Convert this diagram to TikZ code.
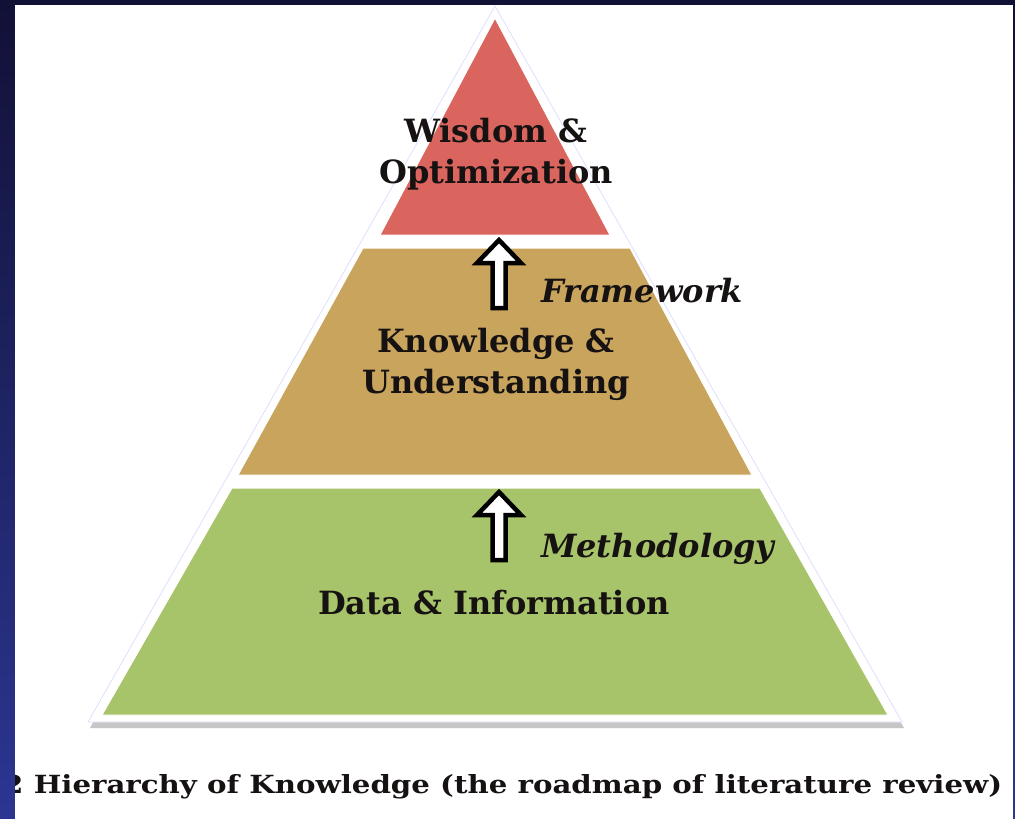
\documentclass[tikz,border=0pt]{standalone}
\usepackage{fontspec}
\setmainfont{DejaVu Serif}
\usetikzlibrary{calc}
\definecolor{slidenavy}{RGB}{17,17,54}
\definecolor{slideblue}{RGB}{44,54,146}
\definecolor{wisdomred}{RGB}{218,101,95}
\definecolor{knowtan}{RGB}{201,164,92}
\definecolor{datagreen}{RGB}{168,196,106}
\definecolor{inkblack}{RGB}{22,18,18}

\tikzset{
  layer/.style={draw=white, line width=1pt},
  levellabel/.style={font=\bfseries\fontsize{32}{41}\selectfont, text=inkblack,
    align=center, inner sep=0pt},
  steplabel/.style={font=\bfseries\itshape\fontsize{32}{40}\selectfont, text=inkblack,
    anchor=base west, inner sep=0pt},
  hollow/.style={draw=black, fill=white, line width=4.5pt, line join=miter},
}

% hollow block arrow pointing up, #1 = foot of the shaft
\newcommand{\hollowup}[1]{%
  \draw[hollow] ($(#1)+(-6.5,0)$) -- ($(#1)+(-6.5,-45)$) -- ($(#1)+(-22,-45)$)
    -- ($(#1)+(0,-68)$) -- ($(#1)+(22,-45)$) -- ($(#1)+(6.5,-45)$)
    -- ($(#1)+(6.5,0)$) -- cycle;}

\begin{document}
\begin{tikzpicture}[x=1pt, y=-1pt]
  \useasboundingbox (0,0) rectangle (1015,819);
  \shade[top color=slidenavy, bottom color=slideblue] (0,0) rectangle (1015,819);
  \fill[white] (15,5) rectangle (1013,819);

  % outer frame of the pyramid
  \coordinate (top) at (495,6);
  \coordinate (bl) at (88,722);
  \coordinate (br) at (902,722);
  \fill[gray!45] ($(top)+(2,5)$) -- ($(bl)+(2,6)$) -- ($(br)+(2,6)$) -- cycle;
  \filldraw[fill=white, draw=blue!12, line width=0.8pt] (top) -- (bl) -- (br) -- cycle;

  % layers
  \filldraw[layer, fill=wisdomred] (495,18) -- (380,235) -- (610,235) -- cycle;
  \filldraw[layer, fill=knowtan] (363,248) -- (630,248) -- (752,475) -- (238,475) -- cycle;
  \filldraw[layer, fill=datagreen] (232,488) -- (760,488) -- (888,715) -- (102,715) -- cycle;

  \node[levellabel] (wisdom) at (496,154) {Wisdom \&\\Optimization};
  \node[levellabel] (knowledge) at (496,364) {Knowledge \&\\Understanding};
  \node[levellabel] (data) at (494,603) {Data \& Information};

  \coordinate (arfoot1) at (499,308);
  \coordinate (arfoot2) at (499,560);
  \hollowup{arfoot1}
  \hollowup{arfoot2}

  \node[steplabel] (framework) at (541,302) {Framework};
  \node[steplabel] (method) at (541,557) {Methodology};

  \begin{scope}
    \clip (15,5) rectangle (1013,819);
    \node[font=\bfseries\fontsize{25}{30}\selectfont, text=inkblack, anchor=base west,
      inner sep=0pt, xscale=1.17] (caption) at (3,793)
      {2 Hierarchy of Knowledge (the roadmap of literature review)};
  \end{scope}
\end{tikzpicture}
\end{document}
